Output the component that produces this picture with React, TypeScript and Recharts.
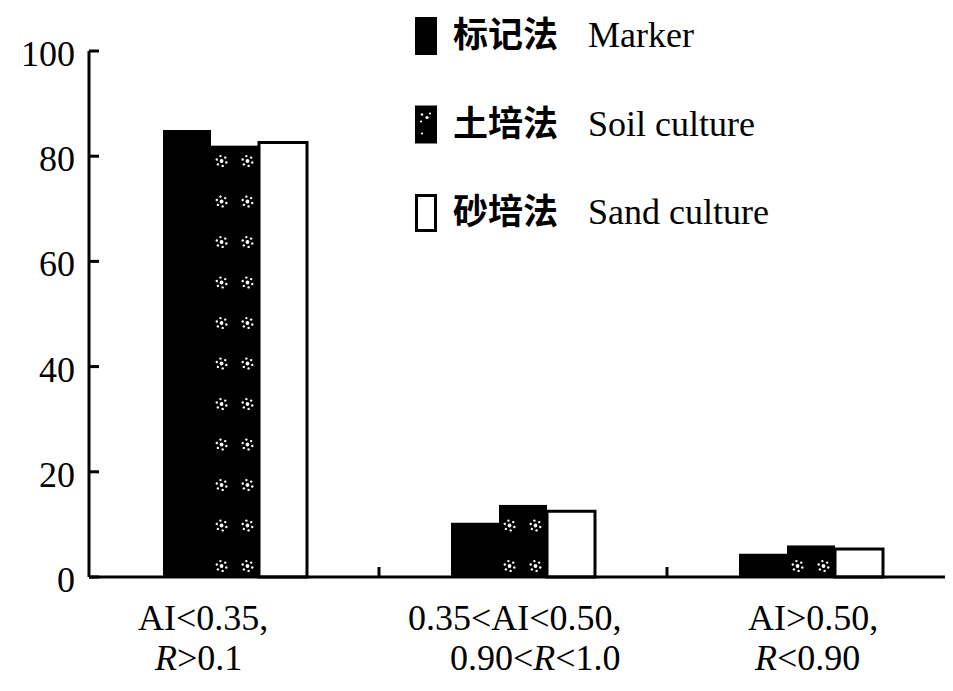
import React from 'react';
import { BarChart, Bar, XAxis, YAxis, Legend } from 'recharts';

// ---- data ----
const categoryLine1 = ['AI<0.35,', '0.35<AI<0.50,', 'AI>0.50,'];
const categoryLine2 = ['R>0.1', '0.90<R<1.0', 'R<0.90'];
const markerValues = [85, 10.3, 4.4];
const soilValues = [82, 13.7, 6];
const sandValues = [82.6, 12.5, 5.3];
const seriesKeys = ['marker', 'soil', 'sand'];
const seriesCn = ['标记法', '土培法', '砂培法'];
const seriesEn = ['Marker', 'Soil culture', 'Sand culture'];
const yTicks = [0, 20, 40, 60, 80, 100];

const data = categoryLine1.map((c, i) => ({
  cat: c,
  line2: categoryLine2[i],
  marker: markerValues[i],
  soil: soilValues[i],
  sand: sandValues[i],
}));

const SERIF = '"Liberation Serif", "Times New Roman", serif';
const CJK = '"Noto Sans CJK SC", sans-serif';

// dot cluster used in the soil-culture fill
const Cluster = ({ cx, cy }: { cx: number; cy: number }) => {
  const dots = [];
  for (let k = 0; k < 6; k++) {
    const a = (Math.PI * 2 * k) / 6 + 0.3;
    dots.push(
      <circle key={k} cx={cx + Math.cos(a) * 5} cy={cy + Math.sin(a) * 5} r={1.2} fill="#fff" />
    );
  }
  return (
    <g>
      <circle cx={cx} cy={cy} r={1.9} fill="#fff" />
      {dots}
    </g>
  );
};

const SoilShape = (props: any) => {
  const { x, y, width, height } = props;
  if (!height || height <= 0) return null;
  const bottom = y + height;
  const clusters = [];
  let n = 0;
  for (let cy = bottom - 11; cy > y + 8; cy -= 40.5) {
    clusters.push(<Cluster key={n++} cx={x + width * 0.22} cy={cy} />);
    clusters.push(<Cluster key={n++} cx={x + width * 0.76} cy={cy} />);
  }
  return (
    <g>
      <rect x={x} y={y} width={width} height={height} fill="#000" />
      {clusters}
    </g>
  );
};

const YTick = (props: any) => {
  const { x, y, payload } = props;
  return (
    <text x={x} y={y} dy={15} textAnchor="end" fontFamily={SERIF} fontSize={36} fill="#000">
      {payload.value}
    </text>
  );
};

const line1Dx = [-97, -115, -63];
const line2Dx = [-80, -73, -56];

const renderLine2 = (s: string) => {
  const parts = s.split('R');
  const out: any[] = [];
  parts.forEach((p, i) => {
    if (i > 0) out.push(<tspan key={'r' + i} fontStyle="italic">R</tspan>);
    if (p) out.push(<tspan key={'p' + i}>{p}</tspan>);
  });
  return out;
};

const XTick = (props: any) => {
  const { x, y, payload } = props;
  const idx = payload.index ?? props.index ?? 0;
  const off = payload.offset ?? 144;
  return (
    <g>
      <text x={x + line1Dx[idx]} y={y + 53} textAnchor="start" fontFamily={SERIF} fontSize={36} fill="#000">
        {payload.value}
      </text>
      <text x={x + line2Dx[idx]} y={y + 93} textAnchor="start" fontFamily={SERIF} fontSize={36} fill="#000">
        {renderLine2(categoryLine2[idx])}
      </text>
      {idx < categoryLine1.length - 1 && (
        <line x1={x + off} x2={x + off} y1={y} y2={y - 10} stroke="#000" strokeWidth={3} />
      )}
    </g>
  );
};

const Swatch = ({ kind, top }: { kind: string; top: number }) => {
  if (kind === 'marker') return <rect x={2} y={top} width={22} height={38} fill="#000" />;
  if (kind === 'soil')
    return (
      <g>
        <rect x={2} y={top} width={22} height={38} fill="#000" />
        <circle cx={9} cy={top + 9} r={1.3} fill="#fff" />
        <circle cx={14} cy={top + 12} r={1.6} fill="#fff" />
        <circle cx={8} cy={top + 16} r={1.1} fill="#fff" />
        <circle cx={17} cy={top + 8} r={1.1} fill="#fff" />
        <circle cx={9} cy={top + 28} r={1.1} fill="#fff" />
      </g>
    );
  return <rect x={3.5} y={top + 1.5} width={19} height={35} fill="#fff" stroke="#000" strokeWidth={3} />;
};

const LEG_PAD = 12;

const renderLegend = (props: any) => {
  const payload = props.payload || [];
  const ordered = seriesKeys
    .map((key) => payload.find((p: any) => p.dataKey === key))
    .filter(Boolean);
  return (
    <svg width={420} height={260} style={{ display: 'block', overflow: 'visible' }}>
      {ordered.map((entry: any, i: number) => {
        const k = seriesKeys.indexOf(entry.dataKey);
        const rowTop = LEG_PAD + 2 + 88.5 * i;
        return (
          <g key={entry.dataKey}>
            <Swatch kind={entry.dataKey} top={rowTop} />
            <text x={40} y={rowTop + 30} fontFamily={CJK} fontWeight={700} fontSize={35} fill="#000">
              {seriesCn[k]}
            </text>
            <text x={175} y={rowTop + 30} fontFamily={SERIF} fontSize={36} fill="#000">
              {seriesEn[k]}
            </text>
          </g>
        );
      })}
    </svg>
  );
};

export default function App() {
  return (
    <div style={{ position: 'absolute', left: 0, top: 0, width: 953, height: 691, background: '#fff' }}>
      <BarChart
        width={953}
        height={691}
        data={data}
        margin={{ top: 51, right: 8, left: 0, bottom: 0 }}
        barGap={0}
        barSize={48}
      >
        <XAxis
          dataKey="cat"
          height={114}
          interval={0}
          padding={{ left: 2, right: -10 }}
          axisLine={{ stroke: '#000', strokeWidth: 3 }}
          tickLine={false}
          tickSize={0}
          tickMargin={0}
          tick={<XTick />}
        />
        <YAxis
          width={89}
          domain={[0, 100]}
          ticks={yTicks}
          interval={0}
          axisLine={{ stroke: '#000', strokeWidth: 3 }}
          tickLine={{ stroke: '#000', strokeWidth: 3 }}
          tickSize={-10}
          tickMargin={24}
          tick={<YTick />}
        />
        <Legend
          layout="vertical"
          align="center"
          verticalAlign="middle"
          wrapperStyle={{ position: 'absolute', left: 413, top: 15 - LEG_PAD, width: 420, height: 260 }}
          content={renderLegend}
        />
        <Bar dataKey="marker" name={seriesEn[0]} fill="#000" isAnimationActive={false} />
        <Bar dataKey="soil" name={seriesEn[1]} fill="#000" shape={<SoilShape />} isAnimationActive={false} />
        <Bar dataKey="sand" name={seriesEn[2]} fill="#fff" stroke="#000" strokeWidth={3} isAnimationActive={false} />
      </BarChart>
    </div>
  );
}
